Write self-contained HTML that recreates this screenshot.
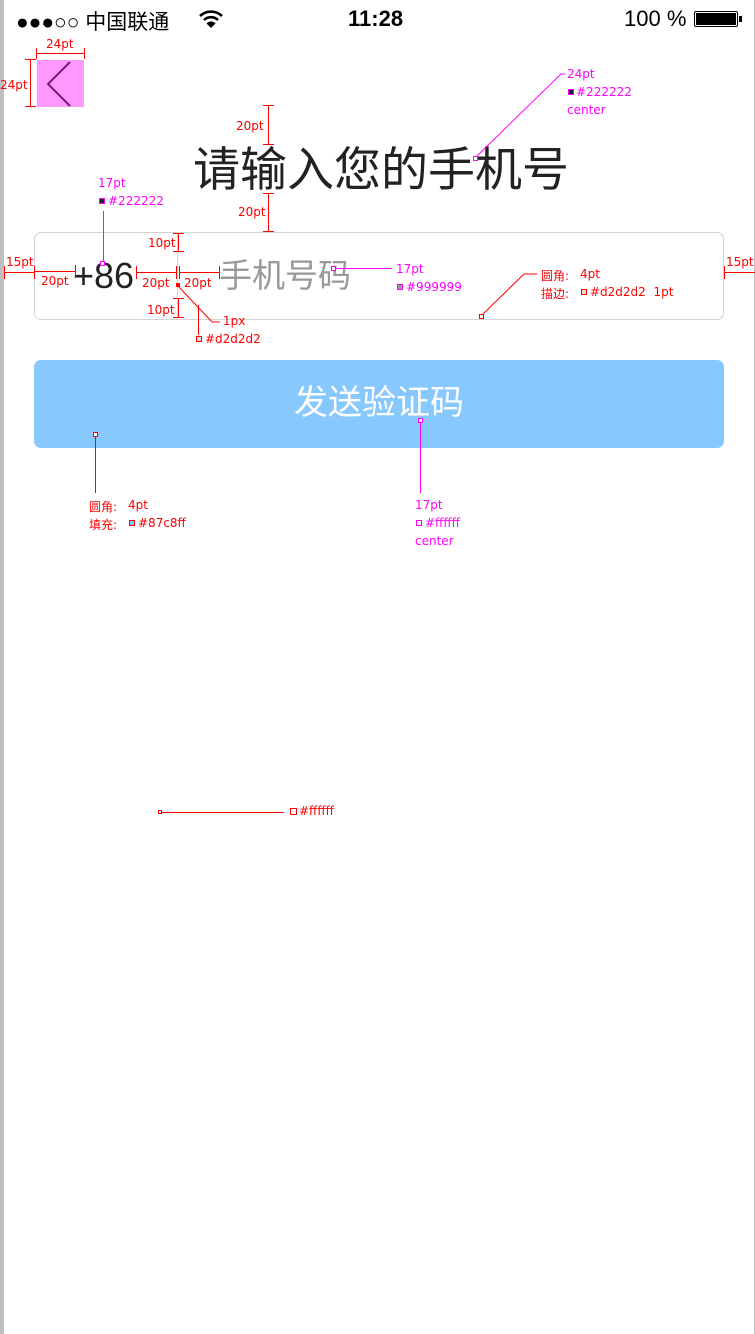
<!DOCTYPE html>
<html><head><meta charset="utf-8">
<style>
html,body{margin:0;padding:0;width:755px;height:1334px;background:#fff;overflow:hidden}
body{position:relative;font-family:"Liberation Sans","Noto Sans CJK SC",sans-serif}
.a{position:absolute;white-space:nowrap}
.lg{position:absolute;left:0;top:0;width:4px;height:1334px;background:#c0c0c0}
.rg{position:absolute;right:0;top:0;width:1px;height:1334px;background:#c0c0c0}
.cn{font-family:"Liberation Sans","Noto Sans CJK SC",sans-serif}
.s{font-size:12px;font-family:"DejaVu Sans","Noto Sans CJK SC",sans-serif}
.r{color:#f00}.m{color:#f0f}
</style></head><body>
<div class="lg"></div><div class="rg"></div>
<!-- status bar -->
<div class="a" style="left:16px;top:6px;font-size:21px;color:#000">●●●○○ 中国联通</div>
<svg class="a" style="left:198px;top:9px" width="26" height="20" viewBox="0 0 26 20"><path d="M2 7 A16 16 0 0 1 24 7" stroke="#000" stroke-width="2.6" fill="none"/><path d="M6 11 A10 10 0 0 1 20 11" stroke="#000" stroke-width="2.6" fill="none"/><path d="M13 19 L8.5 14.5 A6 6 0 0 1 17.5 14.5Z" fill="#000"/></svg>
<div class="a" style="left:348px;top:6px;font-size:22px;font-weight:bold;color:#000">11:28</div>
<div class="a" style="left:624px;top:6px;font-size:22px;color:#000">100 %</div>
<div class="a" style="left:694px;top:11px;width:44px;height:16px;border:1.5px solid #000;border-radius:2px;box-sizing:border-box;padding:1px"><div style="width:100%;height:100%;background:#000"></div></div>
<div class="a" style="left:739px;top:16px;width:3px;height:6px;background:#000"></div>

<!-- back icon -->
<div class="a" style="left:37px;top:60px;width:47px;height:47px;background:#ff99ff"></div>
<svg class="a" style="left:37px;top:60px" width="47" height="47"><polyline points="33,2 11,24 33,46" stroke="#7a1a7a" stroke-width="2" fill="none"/></svg>

<!-- title -->
<div class="a cn" style="left:0;width:762px;text-align:center;top:140px;font-size:47px;line-height:60px;color:#222">请输入您的手机号</div>

<!-- input -->
<div class="a" style="left:34px;top:232px;width:690px;height:88px;border:1px solid #d2d2d2;border-radius:7px;box-sizing:border-box"></div>
<div class="a" style="left:177px;top:233px;width:1px;height:86px;background:#d2d2d2"></div>
<div class="a" style="left:73px;top:254px;font-size:36px;line-height:44px;color:#222">+86</div>
<div class="a cn" style="left:219px;top:254px;font-size:33px;line-height:44px;color:#999">手机号码</div>

<!-- button -->
<div class="a" style="left:34px;top:360px;width:690px;height:88px;background:#87c8ff;border-radius:7px"></div>
<div class="a cn" style="left:34px;width:690px;text-align:center;top:380px;font-size:34px;line-height:46px;color:#fff">发送验证码</div>

<!-- annotation lines -->
<svg class="a" style="left:0;top:0" width="755" height="1334">
<g stroke="#f00" stroke-width="1" fill="none">
<path d="M36.5 53.5H84.5M36.5 48v11M84.5 48v11"/>
<path d="M30.5 59.5V107M25 59.5h11M25 106.5h11"/>
<path d="M268.5 105V145M263 105.5h11M263 144.5h11"/>
<path d="M268.5 193V232M263 193.5h11M263 231.5h11"/>
<path d="M4 272.5H34M4.5 266v13M34.5 266v13"/>
<path d="M34 271.5H75M75.5 265v13"/>
<path d="M136 272.5H176M136.5 266v13M176.5 266v13"/>
<path d="M179 272.5H219M179.5 266v13M219.5 266v13"/>
<path d="M178.5 233V252M173 233.5h11M173 251.5h11"/>
<path d="M178.5 298V318M173 298.5h11M173 317.5h11"/>
<path d="M724 272.5H755M724.5 266v13"/>
<path d="M178 286 L212 322 H220M198.5 305V335"/>
<rect x="176.5" y="283.5" width="3" height="3" fill="#f00"/>
<rect x="196.5" y="336.5" width="5" height="5" fill="#ddd"/>
<path d="M481 316 L524 274 H537"/>
<rect x="479.5" y="314.5" width="4" height="4" fill="#fff"/>
<rect x="581.5" y="289.5" width="5" height="5" fill="#ddd"/>
<path d="M95.5 436V493"/>
<rect x="93.5" y="432.5" width="4" height="4" fill="#fff"/>
<rect x="129.5" y="520.5" width="5" height="5" fill="#87c8ff"/>
<path d="M162 812.5H284"/>
<rect x="158.5" y="810.5" width="3" height="3" fill="#fff"/>
<rect x="290.5" y="808.5" width="6" height="6" fill="#fff"/>
</g>
<g stroke="#f0f" stroke-width="1" fill="none">
<path d="M477 156 L561 74 H565"/>
<rect x="473.5" y="156.5" width="4" height="4" fill="#fff"/>
<rect x="568.5" y="89.5" width="5" height="5" fill="#222"/>
<path d="M103.5 211V261"/>
<rect x="100.5" y="261.5" width="4" height="4" fill="#fff"/>
<rect x="99.5" y="198.5" width="5" height="5" fill="#222"/>
<path d="M336 268.5H392"/>
<rect x="331.5" y="266.5" width="4" height="4" fill="#fff"/>
<rect x="397.5" y="284.5" width="5" height="5" fill="#999"/>
<path d="M420.5 423V493"/>
<rect x="418.5" y="418.5" width="4" height="4" fill="#fff"/>
<rect x="416.5" y="520.5" width="5" height="5" fill="#fff"/>
</g>
</svg>
<!-- annotation labels -->
<div class="a s r" style="left:46px;top:37px">24pt</div>
<div class="a s r" style="left:0;top:78px">24pt</div>
<div class="a s r" style="left:236px;top:119px">20pt</div>
<div class="a s r" style="left:238px;top:205px">20pt</div>
<div class="a s r" style="left:148px;top:236px">10pt</div>
<div class="a s r" style="left:147px;top:303px">10pt</div>
<div class="a s r" style="left:6px;top:255px">15pt</div>
<div class="a s r" style="left:41px;top:274px">20pt</div>
<div class="a s r" style="left:142px;top:276px">20pt</div>
<div class="a s r" style="left:184px;top:276px">20pt</div>
<div class="a s r" style="left:726px;top:255px">15pt</div>
<div class="a s r" style="left:223px;top:314px">1px</div>
<div class="a s r" style="left:205px;top:332px">#d2d2d2</div>
<div class="a s r" style="left:541px;top:267px">圆角:</div>
<div class="a s r" style="left:580px;top:267px">4pt</div>
<div class="a s r" style="left:541px;top:285px">描边:</div>
<div class="a s r" style="left:590px;top:285px">#d2d2d2&nbsp; 1pt</div>
<div class="a s r" style="left:89px;top:498px">圆角:</div>
<div class="a s r" style="left:128px;top:498px">4pt</div>
<div class="a s r" style="left:89px;top:516px">填充:</div>
<div class="a s r" style="left:138px;top:516px">#87c8ff</div>
<div class="a s r" style="left:299px;top:804px">#ffffff</div>
<div class="a s m" style="left:567px;top:67px">24pt</div>
<div class="a s m" style="left:576px;top:85px">#222222</div>
<div class="a s m" style="left:567px;top:103px">center</div>
<div class="a s m" style="left:98px;top:176px">17pt</div>
<div class="a s m" style="left:108px;top:194px">#222222</div>
<div class="a s m" style="left:396px;top:262px">17pt</div>
<div class="a s m" style="left:406px;top:280px">#999999</div>
<div class="a s m" style="left:415px;top:498px">17pt</div>
<div class="a s m" style="left:425px;top:516px">#ffffff</div>
<div class="a s m" style="left:415px;top:534px">center</div>
</body></html>
